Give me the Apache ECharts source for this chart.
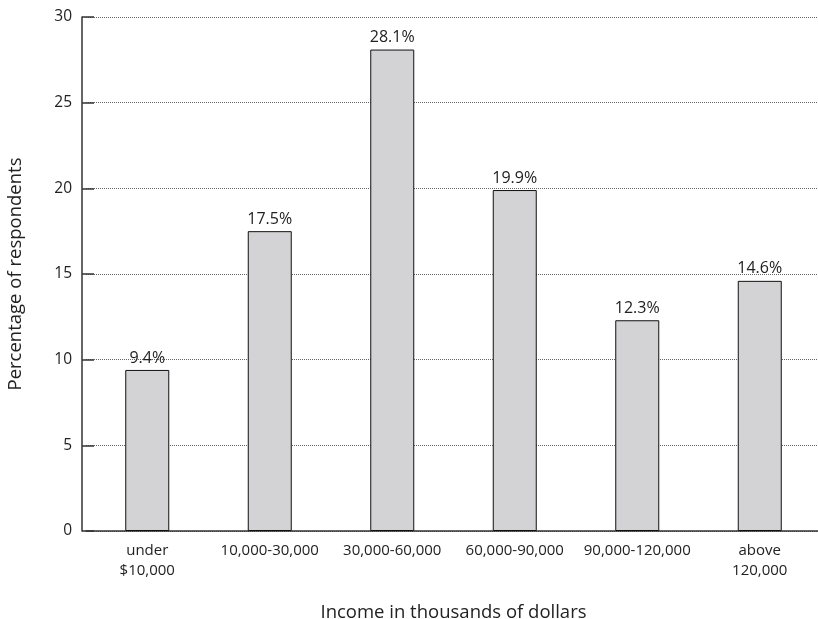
<!DOCTYPE html>
<html>
<head>
<meta charset="utf-8">
<script src="https://cdn.jsdelivr.net/npm/echarts@6/dist/echarts.min.js"></script>
<style>
  html, body { margin: 0; padding: 0; background: #fff; }
  #chart { width: 818px; height: 619px; }
</style>
</head>
<body>
<div id="chart"></div>
<script>
// Income brackets and share of respondents in each (percent)
const categories = ['under\n$10,000', '10,000-30,000', '30,000-60,000', '60,000-90,000', '90,000-120,000', 'above\n120,000'];
const percentages = [9.4, 17.5, 28.1, 19.9, 12.3, 14.6];
const yTicks = { min: 0, max: 30, interval: 5 };

const FONT = '"Open Sans", "Noto Sans", sans-serif';
const chart = echarts.init(document.getElementById('chart'), null, { renderer: 'canvas' });

chart.setOption({
  animation: false,
  backgroundColor: '#fff',
  grid: { left: 86, right: -3, top: 17, bottom: 88, containLabel: false, outerBoundsMode: 'none' },
  xAxis: {
    type: 'category',
    data: categories,
    boundaryGap: true,
    name: 'Income in thousands of dollars',
    nameLocation: 'middle',
    nameGap: 72,
    nameTextStyle: { fontFamily: FONT, fontSize: 18.5, color: '#222' },
    axisLine: { show: true, lineStyle: { color: '#333', width: 1.5 } },
    axisTick: { show: true, inside: true, length: 12, alignWithLabel: true, lineStyle: { color: '#333', width: 1.5 } },
    axisLabel: { fontFamily: FONT, fontSize: 15, color: '#222', margin: 10, lineHeight: 20, interval: 0 },
    splitLine: { show: false }
  },
  yAxis: {
    type: 'value',
    min: yTicks.min,
    max: yTicks.max,
    interval: yTicks.interval,
    offset: 4,
    name: 'Percentage of respondents',
    nameLocation: 'middle',
    nameGap: 57,
    nameRotate: 90,
    nameTextStyle: { fontFamily: FONT, fontSize: 18.5, color: '#222' },
    axisLine: { show: true, lineStyle: { color: '#333', width: 1.5 } },
    axisTick: { show: true, inside: true, length: 12, lineStyle: { color: '#333', width: 1.5 } },
    axisLabel: { fontFamily: FONT, fontSize: 15.5, color: '#222', margin: 10 },
    splitLine: { show: true, lineStyle: { color: '#666', width: 1, type: [1, 1] } }
  },
  series: [{
    type: 'bar',
    data: percentages,
    barWidth: 44,
    itemStyle: { color: '#d3d3d5', borderColor: '#111', borderWidth: 1 },
    label: {
      show: true,
      position: 'top',
      distance: 4,
      fontFamily: FONT,
      fontSize: 16,
      color: '#222',
      formatter: p => p.value.toFixed(1) + '%'
    },
    z: 3
  }]
});
</script>
</body>
</html>
